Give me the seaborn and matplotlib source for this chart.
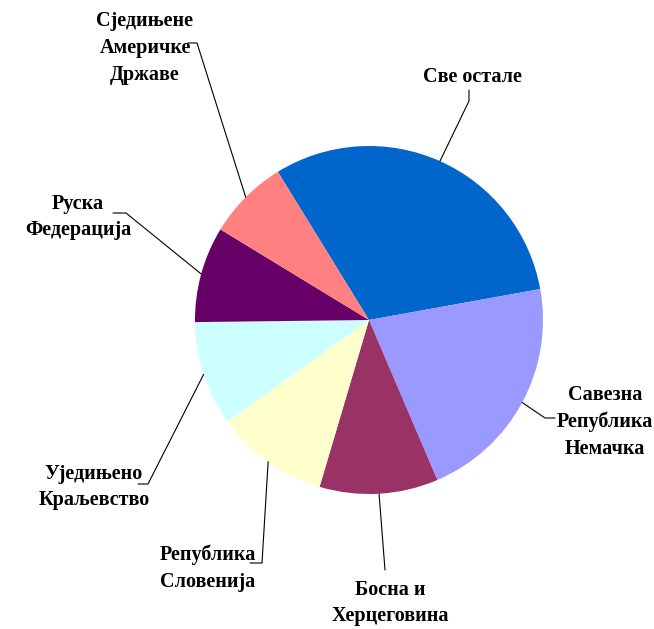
import numpy as np
import seaborn as sns
import matplotlib.pyplot as plt

# shares (percent), clockwise from the blue slice
countries = [
    "Све остале",
    "Савезна\nРепублика\nНемачка",
    "Босна и\nХерцеговина",
    "Република\nСловенија",
    "Уједињено\nКраљевство",
    "Руска\nФедерација",
    "Сједињене\nАмеричке\nДржаве",
]
shares = [30.9, 21.4, 11.0, 10.5, 9.7, 8.9, 7.5]
colors = ["#0066CC", "#9999FF", "#993366", "#FFFFCC", "#CCFFFF", "#660066", "#FF8080"]

sns.set_theme(style="white")
plt.rcParams["font.family"] = ["Liberation Serif", "DejaVu Serif"]

W, H = 654, 629
cx, cy, R = 369, 320, 174

fig = plt.figure(figsize=(W / 100, H / 100), dpi=100)
ax = fig.add_axes([0, 0, 1, 1])


def px(x, y):
    return (x - cx) / R, (cy - y) / R


wedges, _ = ax.pie(shares, colors=colors, startangle=121.6, counterclock=False,
                   radius=1, wedgeprops=dict(linewidth=0))

# label placement in pixels: text centre, elbow of leader, leader end
layout = [
    ((472, 77), (469, 101), (469, 90)),
    ((605, 422), (545, 418), (555, 418)),
    ((390, 603), (385, 570), (385, 570)),
    ((208, 568), (262, 563), (250, 563)),
    ((94, 487), (148, 484), (138, 484)),
    ((78, 217), (126, 213), (113, 213)),
    ((145, 48), (197, 43), (188, 43)),
]

for w, name, (tpos, elbow, end) in zip(wedges, countries, layout):
    mid = np.deg2rad((w.theta1 + w.theta2) / 2)
    sx, sy = np.cos(mid), np.sin(mid)
    ex, ey = px(*elbow)
    fx, fy = px(*end)
    ax.plot([sx, ex, fx], [sy, ey, fy], color="black", linewidth=0.8)
    tx, ty = px(*tpos)
    ax.text(tx, ty, name, ha="center", va="center", fontsize=14.5,
            fontweight="bold", linespacing=1.45, color="black")

ax.set_xlim(-cx / R, (W - cx) / R)
ax.set_ylim(-(H - cy) / R, cy / R)
ax.set_aspect("equal")
ax.axis("off")

fig.savefig("out.png", dpi=100)
